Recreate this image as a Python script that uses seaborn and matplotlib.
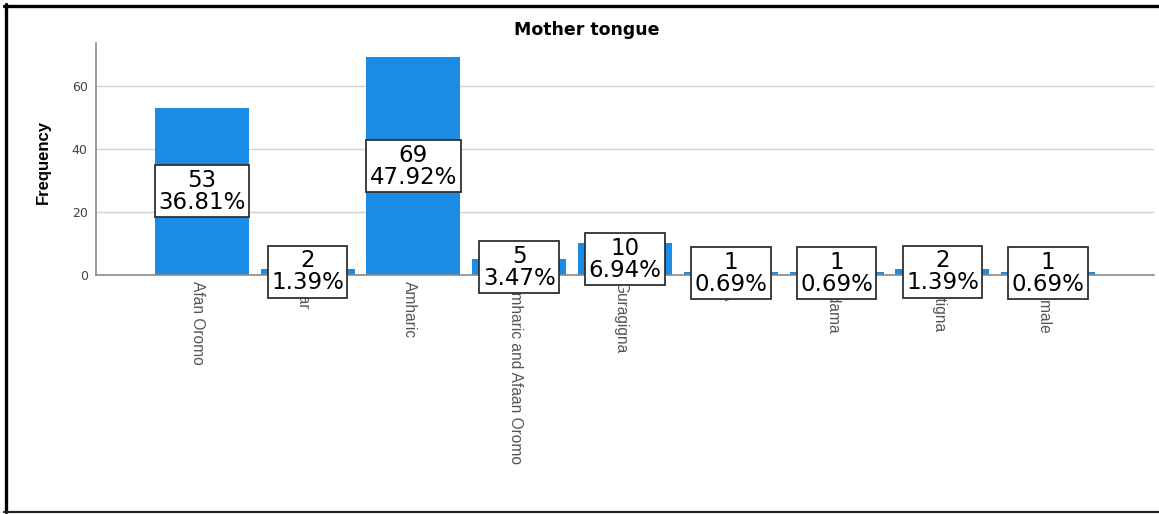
import matplotlib
matplotlib.use("Agg")
import matplotlib.pyplot as plt
import matplotlib.transforms as mtransforms
from matplotlib.lines import Line2D
import seaborn as sns
import pandas as pd

# Mother tongue of respondents (frequency counts)
languages = ["Afan Oromo", "Afar", "Amharic", "Amharic and Afaan Oromo",
             "Guragigna", "NA", "Sidama", "Siltigna", "Somale"]
counts = [53, 2, 69, 5, 10, 1, 1, 2, 1]
y_ticks = [0, 20, 40, 60]

sns.set_style("white")
plt.rcParams["font.family"] = ["DejaVu Sans"]
sans = ["Liberation Sans", "DejaVu Sans"]

W, H = 1159, 514
fig = plt.figure(figsize=(W / 100, H / 100), dpi=100)
ax = fig.add_axes([96 / W, 1 - 275 / H, (1154 - 96) / W, (275 - 43) / H])

df = pd.DataFrame({"language": languages, "count": counts})
sns.barplot(data=df, x="language", y="count", color="#1a8ce6", saturation=1,
            width=0.89, errorbar=None, linewidth=0, ax=ax, zorder=2)

ax.set_xlim(-1, 9)
ax.set_ylim(0, 73.6)
ax.set_yticks(y_ticks)
ax.yaxis.grid(True, color="#d2d2d2", lw=1.0)
ax.xaxis.grid(False)
ax.set_axisbelow(True)
for side in ("top", "right"):
    ax.spines[side].set_visible(False)
for side in ("left", "bottom"):
    ax.spines[side].set_color("#8a8a8a")
    ax.spines[side].set_linewidth(1.2)
ax.set_xlabel("")
ax.set_ylabel("")

ax.tick_params(axis="both", length=0)
ax.tick_params(axis="y", pad=6, labelsize=9, labelcolor="#444444")
ax.set_xticks(range(len(languages)))
ax.set_xticklabels(languages, rotation=270, ha="center", va="top",
                   fontsize=11.2, color="#555555", family=sans)
ax.tick_params(axis="x", pad=4)
shift = mtransforms.ScaledTranslation(-4 / 100, 0, fig.dpi_scale_trans)
for lbl in ax.get_xticklabels():
    lbl.set_transform(lbl.get_transform() + shift)

# count / percentage boxes at half bar height
total = sum(counts)
for i, c in enumerate(counts):
    ax.text(i, c / 2, f"{c}\n{100 * c / total:.2f}%", ha="center", va="center",
            multialignment="center", fontsize=16.5, linespacing=0.95,
            color="black", zorder=6, clip_on=False,
            bbox=dict(boxstyle="square,pad=0.15", fc="white", ec="#303030", lw=1.3))

fig.text(587 / W, 1 - 30 / H, "Mother tongue", ha="center", va="center",
         fontsize=12.5, fontweight="bold", color="black")
fig.text(43 / W, 1 - 162 / H, "Frequency", rotation=90, ha="center", va="center",
         fontsize=12, fontweight="bold", color="black", family=sans)

# outer frame
fig.add_artist(Line2D([5.5 / W, 5.5 / W], [1 - 4 / H, 1 - 512 / H],
                      transform=fig.transFigure, color="black", lw=2.4))
fig.add_artist(Line2D([4 / W, 1], [1 - 5.5 / H, 1 - 5.5 / H],
                      transform=fig.transFigure, color="black", lw=2.4))
fig.add_artist(Line2D([4 / W, 1], [1 - 511.5 / H, 1 - 511.5 / H],
                      transform=fig.transFigure, color="#222222", lw=1.6))

fig.savefig("out.png", dpi=100)
